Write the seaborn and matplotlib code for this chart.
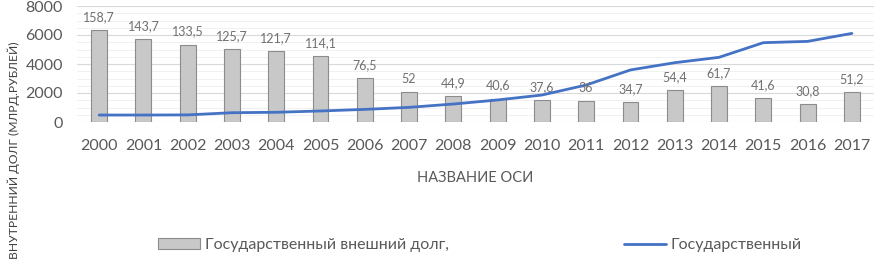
import numpy as np
import pandas as pd
import matplotlib
matplotlib.use("Agg")
import matplotlib.pyplot as plt
import seaborn as sns
from matplotlib.ticker import MultipleLocator

years = [str(y) for y in range(2000, 2018)]

# внешний долг (подписи столбцов) и высота столбцов на шкале
bar_labels = ["158,7", "143,7", "133,5", "125,7", "121,7", "114,1", "76,5", "52", "44,9",
              "40,6", "37,6", "36", "34,7", "54,4", "61,7", "41,6", "30,8", "51,2"]
bar_heights = [6350, 5750, 5340, 5030, 4870, 4560, 3060, 2080, 1800,
               1620, 1500, 1440, 1390, 2180, 2470, 1660, 1230, 2050]

# внутренний долг (линия)
internal_debt = [480, 480, 490, 640, 670, 760, 870, 1010, 1240,
                 1520, 1860, 2550, 3590, 4090, 4460, 5470, 5560, 6110]

df = pd.DataFrame({"year": years, "bars": bar_heights, "line": internal_debt})

sns.set_style("white")
plt.rcParams["font.family"] = ["Lato", "DejaVu Sans"]
gray = "#595959"

fig = plt.figure(figsize=(8.8, 2.62), dpi=100)
ax = fig.add_axes([77 / 880, 1 - 122 / 262, (874 - 77) / 880, 116 / 262])

sns.barplot(data=df, x="year", y="bars", ax=ax, color="#c8c8c8", edgecolor="#8c8c8c",
            linewidth=0.8, width=0.36, saturation=1,
            label="Государственный внешний долг,")
sns.lineplot(data=df, x="year", y="line", ax=ax, color="#4472c4", linewidth=2,
             label="Государственный")

for i, txt in enumerate(bar_labels):
    ax.annotate(txt, (i, bar_heights[i]), xytext=(0, 5), textcoords="offset points",
                ha="center", va="bottom", fontsize=9, color="#707070")

ax.set_ylim(0, 8000)
ax.set_xlim(-0.5, len(years) - 0.5)
ax.yaxis.set_major_locator(MultipleLocator(2000))
ax.yaxis.set_minor_locator(MultipleLocator(500))
ax.grid(axis="y", which="major", color="#d9d9d9", linewidth=0.8)
ax.grid(axis="y", which="minor", color="#efefef", linewidth=0.6)
ax.set_axisbelow(True)
for s in ax.spines.values():
    s.set_visible(False)
ax.tick_params(axis="both", which="both", length=0, labelsize=11.5, colors=gray)
ax.tick_params(axis="x", pad=12)
ax.tick_params(axis="y", pad=10)
ax.set_xlabel("НАЗВАНИЕ ОСИ", fontsize=10.5, color=gray, labelpad=13)
ax.set_ylabel("")

fig.text(7 / 880, 0.01, "ВНУТРЕННИЙ ДОЛГ (МЛРД.РУБЛЕЙ)", rotation=90, fontsize=8.7,
         color="#404040", ha="left", va="bottom")

ax.get_legend().remove()
handles, labels = ax.get_legend_handles_labels()
order = [labels.index("Государственный внешний долг,"), labels.index("Государственный")]
fig.legend([handles[k] for k in order], [labels[k] for k in order], ncol=2, loc="center",
           bbox_to_anchor=(480 / 880, 1 - 245 / 262), frameon=False, fontsize=11.5,
           labelcolor=gray, handlelength=2.6, columnspacing=11, handletextpad=0.3)

fig.savefig("out.png", dpi=100)
